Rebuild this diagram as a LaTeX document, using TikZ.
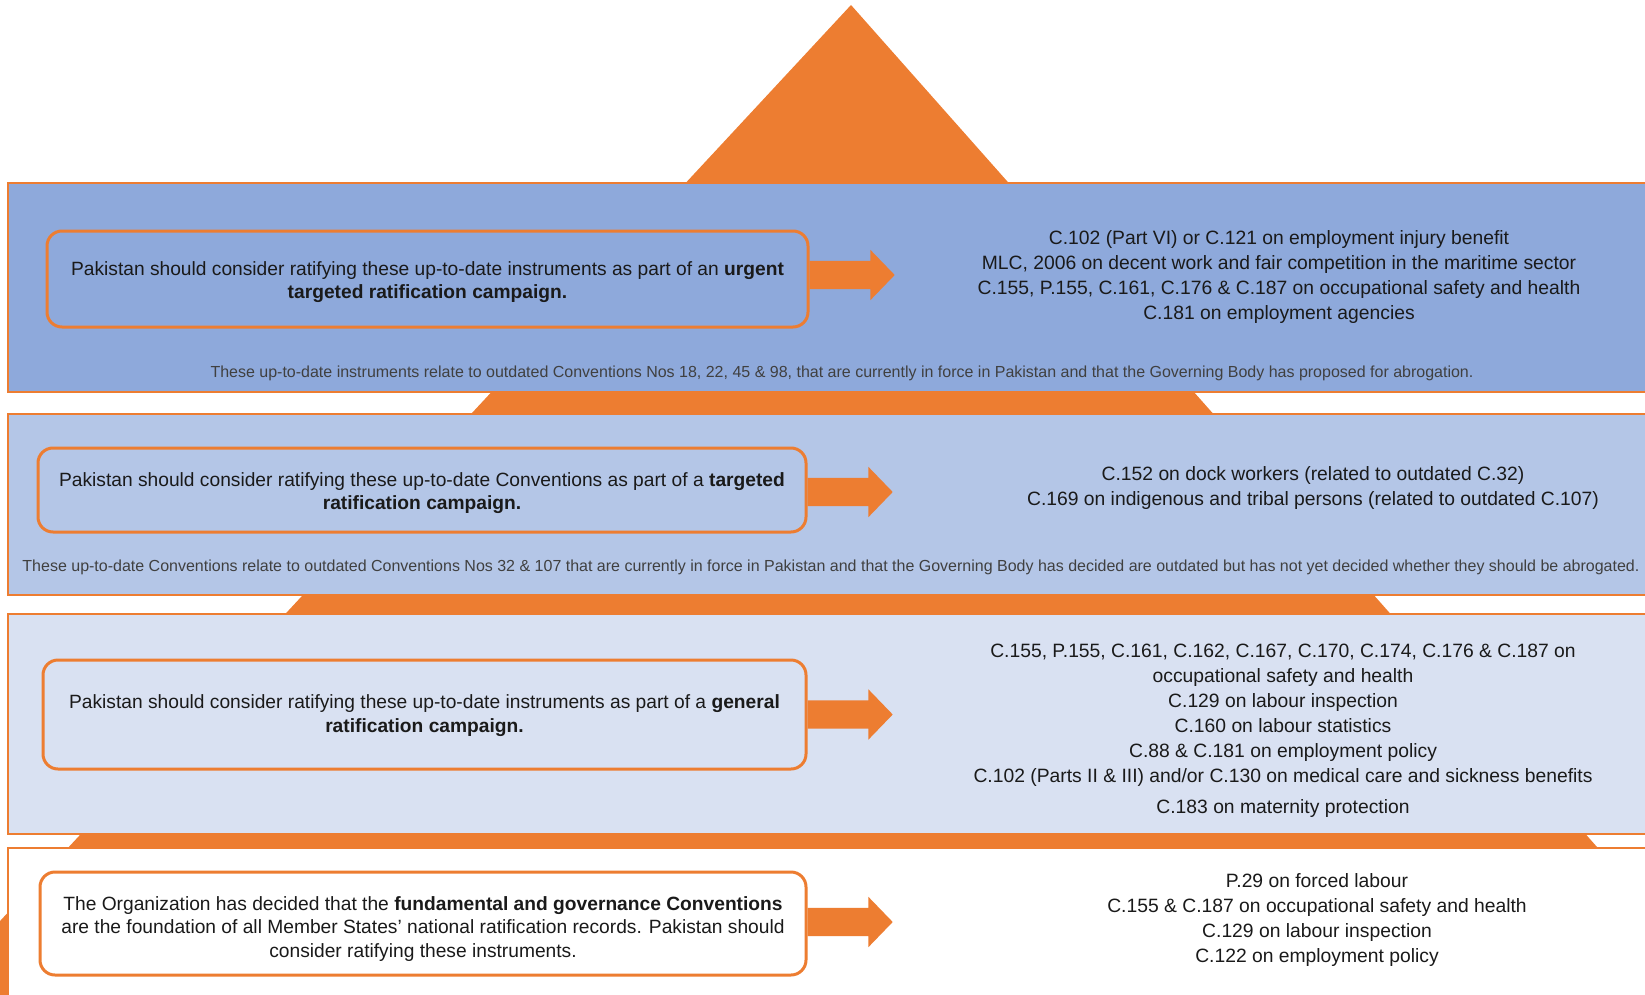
\documentclass[tikz,border=0pt]{standalone}
\usepackage{fontspec}
\setmainfont{Liberation Sans}
\usetikzlibrary{shapes.arrows}

\definecolor{iloorange}{HTML}{ED7D31}
\definecolor{bandA}{HTML}{8EA9DB}
\definecolor{bandB}{HTML}{B4C6E7}
\definecolor{bandC}{HTML}{D9E1F2}
\definecolor{maintext}{HTML}{1A1A1A}
\definecolor{notetext}{HTML}{404040}

% invisible strut that lowers a box's text block
\newcommand{\lowerby}[1]{\rule{0pt}{#1}}

\tikzset{
  band/.style={draw=iloorange, line width=1.5pt},
  ratbox/.style={draw=iloorange, line width=3pt, rounded corners=15pt,
    inner sep=0pt, align=center, text=maintext,
    font=\fontsize{19.2}{23.5}\selectfont},
  listtext/.style={align=center, inner sep=0pt, text=maintext,
    font=\fontsize{19.3}{25}\selectfont},
  notetext/.style={align=center, inner sep=0pt, text=notetext,
    font=\fontsize{16}{18}\selectfont},
  blockarrow/.style={single arrow, fill=iloorange, draw=none,
    minimum height=85pt, minimum width=50pt, inner xsep=0pt, inner ysep=14pt,
    text height=0pt, text depth=0pt, single arrow head extend=11pt,
    single arrow tip angle=92, anchor=tail}
}

\begin{document}
\begin{tikzpicture}[x=1pt, y=-1pt]
\useasboundingbox (0,0) rectangle (1645,995);
\clip (0,0) rectangle (1645,995);

% pyramid behind the bands
\fill[iloorange] (851,5) -- (-78,1005) -- (1737,1005) -- cycle;

% horizontal bands
\draw[band, fill=bandA] (8,183) rectangle (1665,392);
\draw[band, fill=bandB] (8,414) rectangle (1665,595);
\draw[band, fill=bandC] (8,614) rectangle (1665,834);
\draw[band, fill=white] (8,848) rectangle (1665,1010);

% level 1: urgent targeted campaign
\node[ratbox, minimum width=761pt, minimum height=96pt] (box1) at (427.5,279)
  {\lowerby{20pt}Pakistan should consider ratifying these up-to-date instruments as part of an \textbf{urgent}\\
   \textbf{targeted ratification campaign.}};
\node[blockarrow] (arr1) at ([yshift=4pt]box1.east) {};
\node[listtext] (list1) at (1279,277.5)
  {C.102 (Part VI) or C.121 on employment injury benefit\\
   MLC, 2006 on decent work and fair competition in the maritime sector\\
   C.155, P.155, C.161, C.176 \& C.187 on occupational safety and health\\
   C.181 on employment agencies};
\node[notetext] (note1) at (842,373)
  {These up-to-date instruments relate to outdated Conventions Nos 18, 22, 45 \& 98, that are currently in force in Pakistan and that the Governing Body has proposed for abrogation.};

% level 2: targeted campaign
\node[ratbox, minimum width=768pt, minimum height=84pt] (box2) at (422,490)
  {\lowerby{20pt}Pakistan should consider ratifying these up-to-date Conventions as part of a \textbf{targeted}\\
   \textbf{ratification campaign.}};
\node[blockarrow] (arr2) at ([yshift=-2pt]box2.east) {};
\node[listtext] (list2) at (1313,488.5)
  {C.152 on dock workers (related to outdated C.32)\\
   C.169 on indigenous and tribal persons (related to outdated C.107)};
\node[notetext] (note2) at (831,567)
  {These up-to-date Conventions relate to outdated Conventions Nos 32 \& 107 that are currently in force in Pakistan and that the Governing Body has decided are outdated but has not yet decided whether they should be abrogated.};

% level 3: general campaign
\node[ratbox, minimum width=763pt, minimum height=109pt] (box3) at (424.5,714.5)
  {\lowerby{16pt}Pakistan should consider ratifying these up-to-date instruments as part of a \textbf{general}\\
   \textbf{ratification campaign.}};
\node[blockarrow] (arr3) at (box3.east) {};
\node[listtext] (list3) at (1283,731)
  {C.155, P.155, C.161, C.162, C.167, C.170, C.174, C.176 \& C.187 on\\
   occupational safety and health\\
   C.129 on labour inspection\\
   C.160 on labour statistics\\
   C.88 \& C.181 on employment policy\\
   C.102 (Parts II \& III) and/or C.130 on medical care and sickness benefits\\[6pt]
   C.183 on maternity protection};

% level 4: fundamental and governance Conventions
\node[ratbox, minimum width=766pt, minimum height=103pt] (box4) at (423,923.5)
  {\lowerby{24pt}The Organization has decided that the \textbf{fundamental and governance Conventions}\\
   are the foundation of all Member States’ national ratification records. Pakistan should\\
   consider ratifying these instruments.};
\node[blockarrow] (arr4) at ([yshift=1.5pt]box4.east) {};
\node[listtext] (list4) at (1317,920)
  {P.29 on forced labour\\
   C.155 \& C.187 on occupational safety and health\\
   C.129 on labour inspection\\
   C.122 on employment policy};
\end{tikzpicture}
\end{document}
